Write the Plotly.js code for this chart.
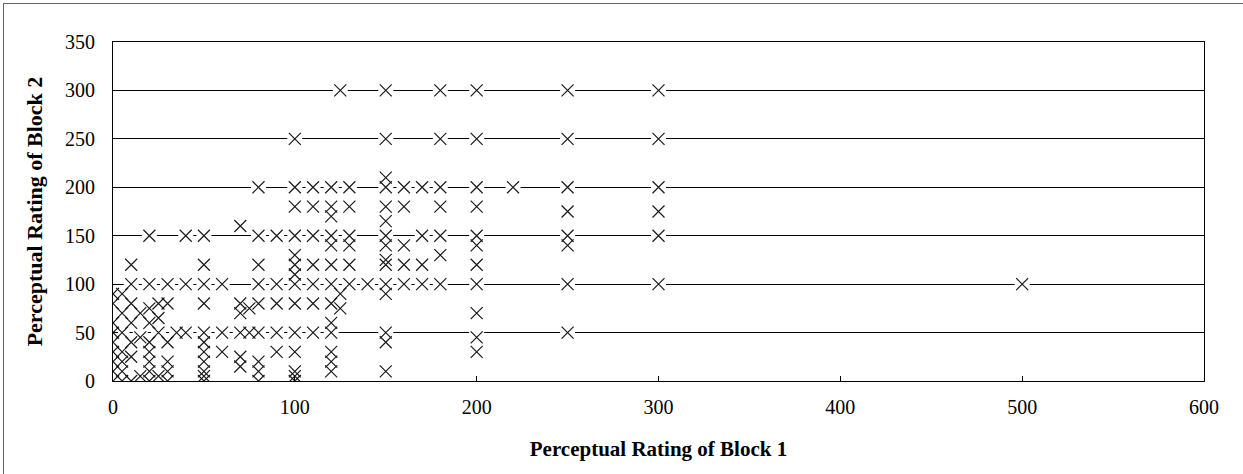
<!DOCTYPE html>
<html>
<head>
<meta charset="utf-8">
<script src="https://cdn.plot.ly/plotly-3.0.1.min.js"></script>
<style>
  html, body { margin: 0; padding: 0; background: #fff; }
  #wrap { position: relative; width: 1243px; height: 474px; overflow: hidden; }
  #chart { position: absolute; left: 0; top: 0; width: 1243px; height: 474px; }
  #frame { position: absolute; left: 3px; top: 3px; width: 1260px; height: 490px;
           border-left: 1px solid #666; border-top: 1px solid #666; pointer-events: none; }
</style>
</head>
<body>
<div id="wrap">
  <div id="chart"></div>
  <div id="frame"></div>
</div>
<script>
// Perceptual Rating of Block 1 (x) and Block 2 (y), one entry per rated item
const block1 = [
  0, 0, 0, 0, 0, 0, 0, 0, 0,
  5, 5, 5, 5, 5, 5, 5,
  10, 10, 10, 10, 10, 10, 10,
  15, 15, 15,
  20, 20, 20, 20, 20, 20, 20, 20, 20,
  25, 25, 25, 25,
  30, 30, 30, 30, 30, 30,
  35,
  40, 40, 40,
  50, 50, 50, 50, 50, 50, 50, 50, 50, 50, 50,
  60, 60, 60,
  70, 70, 70, 70, 70, 70,
  75, 75,
  80, 80, 80, 80, 80, 80, 80, 80, 80,
  90, 90, 90, 90, 90,
  100, 100, 100, 100, 100, 100, 100, 100, 100, 100, 100, 100, 100, 100,
  110, 110, 110, 110, 110, 110, 110,
  120, 120, 120, 120, 120, 120, 120, 120, 120, 120, 120, 120, 120,
  125, 125, 125,
  130, 130, 130, 130, 130, 130,
  140,
  150, 150, 150, 150, 150, 150, 150, 150, 150, 150, 150, 150, 150, 150, 150,
  160, 160, 160, 160, 160,
  170, 170, 170, 170,
  180, 180, 180, 180, 180, 180, 180,
  200, 200, 200, 200, 200, 200, 200, 200, 200, 200, 200,
  220,
  250, 250, 250, 250, 250, 250, 250, 250,
  300, 300, 300, 300, 300, 300,
  500
];
const block2 = [
  0, 10, 20, 30, 40, 50, 60, 80, 90,
  0, 10, 20, 30, 50, 70, 90,
  0, 25, 40, 60, 80, 100, 120,
  5, 45, 70,
  0, 10, 20, 30, 40, 60, 75, 100, 150,
  5, 50, 65, 80,
  0, 10, 20, 40, 80, 100,
  50,
  50, 100, 150,
  0, 5, 10, 20, 30, 40, 50, 80, 100, 120, 150,
  30, 50, 100,
  15, 25, 50, 70, 80, 160,
  50, 75,
  0, 10, 20, 50, 80, 100, 120, 150, 200,
  30, 50, 80, 100, 150,
  0, 5, 10, 30, 50, 80, 100, 110, 120, 130, 150, 180, 200, 250,
  50, 80, 100, 120, 150, 180, 200,
  10, 20, 30, 50, 60, 80, 100, 120, 140, 150, 170, 180, 200,
  75, 90, 300,
  100, 120, 140, 150, 180, 200,
  100,
  10, 40, 50, 90, 100, 120, 125, 140, 150, 165, 180, 200, 210, 250, 300,
  100, 120, 140, 180, 200,
  100, 120, 150, 200,
  100, 130, 150, 180, 200, 250, 300,
  30, 45, 70, 100, 120, 140, 150, 180, 200, 250, 300,
  200,
  50, 100, 140, 150, 175, 200, 250, 300,
  100, 150, 175, 200, 250, 300,
  100
];
const xTickValues = [0, 100, 200, 300, 400, 500, 600];
const yTickValues = [0, 50, 100, 150, 200, 250, 300, 350];
const xTitle = 'Perceptual Rating of Block 1';
const yTitle = 'Perceptual Rating of Block 2';

const FONT = '"Liberation Serif", "Times New Roman", serif';

const backing = {
  x: block1, y: block2, type: 'scatter', mode: 'markers',
  marker: { symbol: 'square', size: 15, color: '#ffffff', line: { width: 0 } },
  hoverinfo: 'skip', showlegend: false
};
const crosses = {
  x: block1, y: block2, type: 'scatter', mode: 'markers',
  marker: { symbol: 'x-thin-open', size: 12, color: '#1a1a1a',
            line: { width: 1.2, color: '#1a1a1a' } },
  showlegend: false
};

const layout = {
  width: 1243, height: 474,
  margin: { l: 113, r: 39, t: 42, b: 93, pad: 0 },
  paper_bgcolor: '#ffffff', plot_bgcolor: '#ffffff',
  font: { family: FONT, color: '#000000', size: 20 },
  showlegend: false,
  xaxis: {
    range: [0, 600], tickvals: xTickValues, ticktext: xTickValues.map(String),
    ticks: 'inside', ticklen: 5, tickwidth: 1, tickcolor: '#000',
    showline: true, linecolor: '#000', linewidth: 1, mirror: true,
    showgrid: false, zeroline: false, fixedrange: true,
    tickfont: { family: FONT, size: 20, color: '#000' },
    ticklabelstandoff: 8,
    title: { text: xTitle, font: { family: FONT, size: 21, weight: 'bold', color: '#000' }, standoff: 24 }
  },
  yaxis: {
    range: [0, 350], tickvals: yTickValues, ticktext: yTickValues.map(String),
    ticks: 'inside', ticklen: 5, tickwidth: 1, tickcolor: '#000',
    showline: true, linecolor: '#000', linewidth: 1, mirror: true,
    showgrid: true, gridcolor: '#000', gridwidth: 1, zeroline: false, fixedrange: true,
    tickfont: { family: FONT, size: 20, color: '#000' },
    ticklabelstandoff: 13,
    title: { text: yTitle, font: { family: FONT, size: 22, weight: 'bold', color: '#000' }, standoff: 16 }
  }
};

Plotly.newPlot('chart', [backing, crosses], layout, { staticPlot: true, displayModeBar: false });
</script>
</body>
</html>
